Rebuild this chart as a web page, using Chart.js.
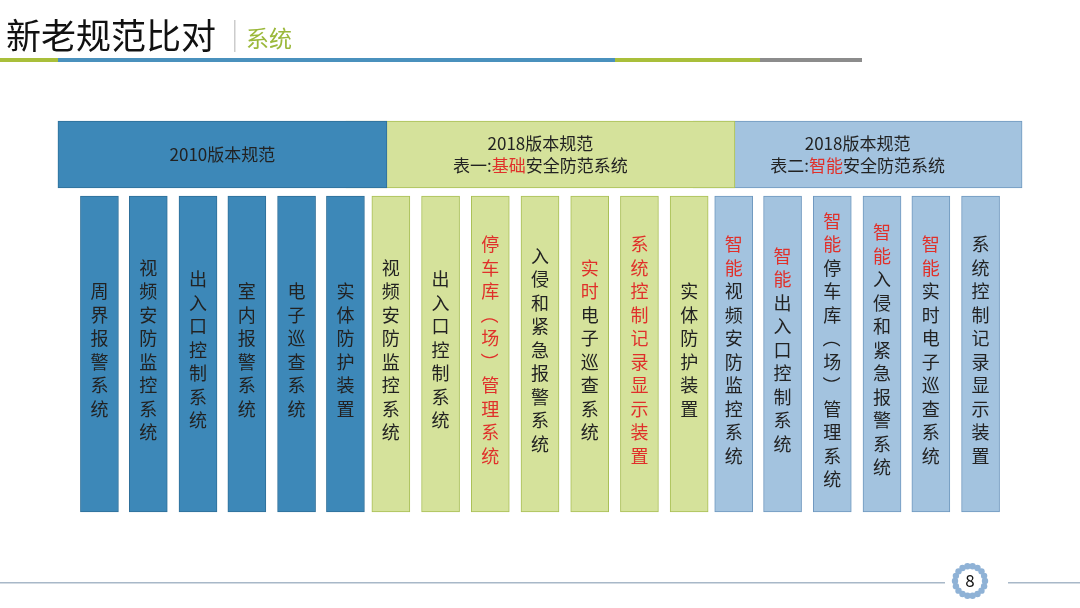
<!DOCTYPE html>
<html><head><meta charset="utf-8">
<script src="https://cdn.jsdelivr.net/npm/chart.js@4"></script>
<style>html,body{margin:0;padding:0;background:#fff}#c{display:block}</style>
</head><body><canvas id="c" width="1080" height="608"></canvas>
<script>
const title = "新老规范比对";
const subtitle = "系统";
const headers = [["2010版本规范"],["2018版本规范","表一:|基础|安全防范系统"],["2018版本规范","表二:|智能|安全防范系统"]];
const group1 = ["周界报警系统","视频安防监控系统","出入口控制系统","室内报警系统","电子巡查系统","实体防护装置"];
const group1Red = [0,0,0,0,0,0];
const group2 = ["视频安防监控系统","出入口控制系统","停车库（场）管理系统","入侵和紧急报警系统","实时电子巡查系统","系统控制记录显示装置","实体防护装置"];
const group2Red = [0,0,99,0,2,99,0];
const group3 = ["智能视频安防监控系统","智能出入口控制系统","智能停车库（场）管理系统","智能入侵和紧急报警系统","智能实时电子巡查系统","系统控制记录显示装置"];
const group3Red = [2,2,2,2,2,0];
const pageNum = "8";

const FONT = '"Noto Sans CJK SC", sans-serif';
const colTop=196, colBot=512, colW=38;
const g1x=[26,83,141,198,256,313], g2x=[366,424,482,540,598,656,714], g3x=[766,823,881,939,996,1054];
const hdr=[{c:169.5,w:329},{c:540.5,w:389},{c:910.5,w:329}];
const styles=[{bg:'#3d88b8',bd:'#2e6f99'},{bg:'#d5e29b',bd:'#a9bf55'},{bg:'#a3c3df',bd:'#6f98bf'}];
const groups=[[group1,group1Red,g1x],[group2,group2Red,g2x],[group3,group3Red,g3x]];

const datasets=[];
hdr.forEach((h,i)=>datasets.push({kind:'hdr',gi:i,grouped:false,data:[{x:h.c,y:[121,188]}],barThickness:h.w,backgroundColor:styles[i].bg,borderColor:styles[i].bd,borderWidth:1,borderSkipped:false}));
groups.forEach((g,i)=>g[0].forEach((s,j)=>datasets.push({kind:'col',gi:i,ci:j,grouped:false,data:[{x:g[2][j],y:[colTop,colBot]}],barThickness:colW,backgroundColor:styles[i].bg,borderColor:styles[i].bd,borderWidth:1,borderSkipped:false})));

const deco={id:'deco',afterDatasetsDraw(ch){
 const c=ch.ctx; c.save();
 c.fillStyle='#111'; c.font='35px '+FONT; c.textBaseline='alphabetic'; c.fillText(title,6,49);
 c.fillStyle='#ccc'; c.fillRect(234,20,1.5,32);
 c.fillStyle='#9bb83a'; c.font='23px '+FONT; c.fillText(subtitle,246,47);
 [['#a9bf3a',0,58],['#4a91bd',58,615],['#a9bf3a',615,760],['#8c8c8c',760,862]].forEach(s=>{c.fillStyle=s[0];c.fillRect(s[1],58,s[2]-s[1],4);});
 c.fillStyle='#a8b8c8'; c.fillRect(0,582,945,1.5); c.fillRect(1008,582,72,1.5);
 for(let k=0;k<18;k++){const a=k/18*Math.PI*2;c.beginPath();c.arc(970+15*Math.cos(a),581+15*Math.sin(a),3.2,0,7);c.fillStyle='#8fb2d6';c.fill();}
 c.fillStyle='#111'; c.font='17px '+FONT; c.textAlign='center'; c.textBaseline='middle'; c.fillText(pageNum,970,581);
 ch.data.datasets.forEach((ds,di)=>{
  const el=ch.getDatasetMeta(di).data[0]; const top=Math.min(el.y,el.base), bot=Math.max(el.y,el.base), cx=el.x;
  if(ds.kind==='hdr'){
   const lines=headers[ds.gi]; c.font='17px '+FONT; c.textBaseline='middle';
   const mid=(top+bot)/2, lh=22, y0=mid-(lines.length-1)*lh/2;
   lines.forEach((ln,k)=>{const parts=ln.split('|');let tw=parts.reduce((a,p)=>a+c.measureText(p).width,0);let x=cx-tw/2;c.textAlign='left';
    parts.forEach((p,pi)=>{c.fillStyle=pi===1?'#e0302a':'#222';c.fillText(p,x,y0+k*lh);x+=c.measureText(p).width;});});
  } else {
   const g=groups[ds.gi], s=g[0][ds.ci], red=g[1][ds.ci]; const chars=[...s]; const step=23.5;
   const y0=(top+bot)/2-(chars.length-1)*step/2-4; c.font='18px '+FONT; c.textAlign='center'; c.textBaseline='middle';
   chars.forEach((chh,k)=>{c.fillStyle=k<red?'#e0302a':'#222';const y=y0+k*step;
    if(chh==='（'||chh==='）'){c.save();c.translate(cx,y);c.rotate(Math.PI/2);c.fillText(chh,0,0);c.restore();} else c.fillText(chh,cx,y);});
  }
 });
 c.restore();}};

new Chart(document.getElementById('c'),{type:'bar',data:{datasets},plugins:[deco],
 options:{responsive:false,animation:false,layout:{padding:0},plugins:{legend:{display:false},tooltip:{enabled:false}},
  scales:{x:{type:'linear',min:0,max:1080,display:false},y:{type:'linear',min:0,max:608,reverse:true,display:false}}}});
</script></body></html>
